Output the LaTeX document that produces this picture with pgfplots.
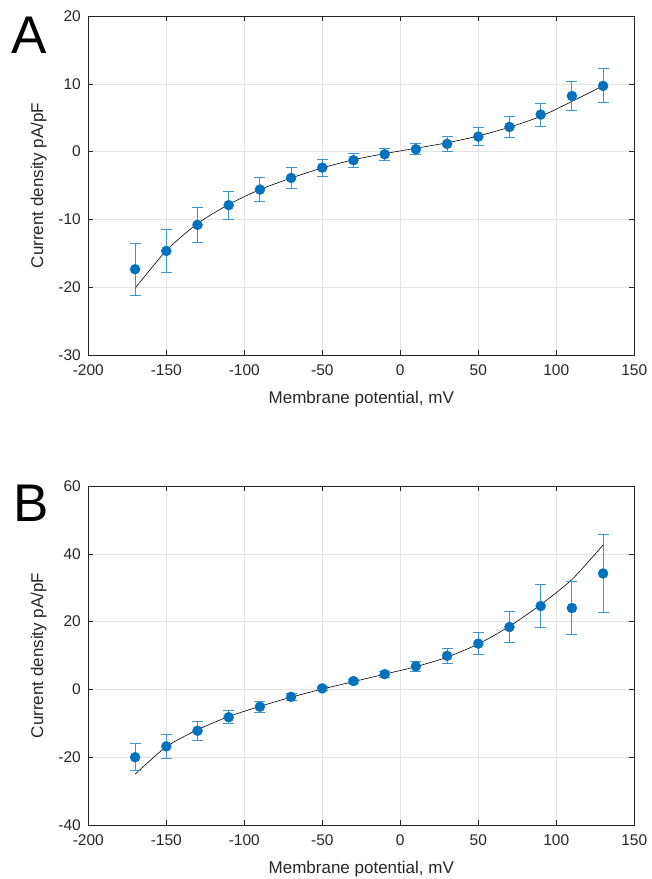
\documentclass[border=0pt]{standalone}
\usepackage{fontspec}
\setmainfont{Liberation Sans}
\usepackage{pgfplots}
\usepackage{pgfplotstable}
\pgfplotsset{compat=1.18}

\definecolor{mblue}{HTML}{0072BD}
\definecolor{ebar}{HTML}{3E94D1}
\definecolor{axgray}{HTML}{262626}

% measured points: x, mean, error (SEM)
\pgfplotstableread{
x y e
-170 -17.35 3.85
-150 -14.65 3.2
-130 -10.8 2.55
-110 -7.9 2.05
-90 -5.6 1.77
-70 -3.88 1.52
-50 -2.36 1.25
-30 -1.27 1.05
-10 -0.39 0.9
10 0.35 0.85
30 1.14 1.12
50 2.21 1.32
70 3.64 1.5
90 5.46 1.7
110 8.2 2.12
130 9.69 2.52
}\dataA

\pgfplotstableread{
x y
-170 -20.15
-150 -14.6
-130 -10.6
-110 -7.8
-90 -5.6
-70 -3.9
-50 -2.4
-30 -1.2
-10 -0.3
10 0.5
30 1.3
50 2.3
70 3.6
90 5.2
110 7.4
130 9.7
}\fitA

\pgfplotstableread{
x y e
-170 -20.0 3.9
-150 -16.8 3.6
-130 -12.2 2.8
-110 -8.2 2.0
-90 -5.1 1.6
-70 -2.2 1.1
-50 0.3 0.6
-30 2.46 0.6
-10 4.5 0.9
10 6.8 1.5
30 9.9 2.2
50 13.5 3.2
70 18.4 4.5
90 24.6 6.3
110 24.0 7.9
130 34.2 11.4
}\dataB

\pgfplotstableread{
x y
-170 -25.0
-150 -16.9
-130 -11.9
-110 -8.0
-90 -5.0
-70 -2.3
-50 0.1
-30 2.3
-10 4.5
10 6.7
30 9.5
50 13.4
70 18.6
90 25.0
110 32.4
130 42.6
}\fitB

\pgfplotsset{
  ivstyle/.style={
    width=546pt, height=339pt, scale only axis,
    xmin=-200, xmax=150,
    xtick={-200,-150,...,150},
    axis line style={axgray, line width=0.7pt},
    tick style={axgray, line width=0.6pt},
    major tick length=5pt,
    tick align=inside,
    grid=major,
    major grid style={gray!22, line width=0.5pt},
    ticklabel style={font=\fontsize{15.5}{18}\selectfont, text=axgray},
    xticklabel style={yshift=-6pt},
    yticklabel style={xshift=-4pt},
    /pgf/number format/assume math mode=true,
    xlabel={Membrane potential, mV},
    ylabel={Current density pA/pF},
    label style={font=\fontsize{17}{20}\selectfont, text=axgray},
    xlabel style={at={(axis description cs:0.5,0)}, anchor=north, yshift=-33pt},
    ylabel style={at={(axis description cs:-0.076,0.5)}, anchor=south, inner sep=0pt},
    clip=false,
  },
  fitline/.style={black, line width=0.6pt, smooth, tension=0.4, no marks},
  pts/.style={only marks, mark=*, mark size=5pt, color=mblue,
    mark options={fill=mblue, draw=mblue},
    error bars/.cd, y dir=both, y explicit,
    error bar style={ebar, line width=1pt},
    error mark options={ebar, mark size=5.5pt, line width=1pt, rotate=90}},
}

\begin{document}
\begin{tikzpicture}
\path[use as bounding box] (0,0) rectangle (652pt,-879pt);

\begin{axis}[ivstyle, at={(88.3pt,-355pt)}, anchor=south west,
  ymin=-30, ymax=20, ytick={-30,-20,...,20}]
\addplot[fitline] table[x=x, y=y] {\fitA};
\addplot[pts] table[x=x, y=y, y error=e] {\dataA};
\end{axis}

\begin{axis}[ivstyle, at={(88.3pt,-825pt)}, anchor=south west,
  ymin=-40, ymax=60, ytick={-40,-20,...,60}]
\addplot[fitline] table[x=x, y=y] {\fitB};
\addplot[pts] table[x=x, y=y, y error=e] {\dataB};
\end{axis}

\node[anchor=base west, inner sep=0pt, font=\fontsize{53}{60}\selectfont] at (11pt,-53pt) {A};
\node[anchor=base west, inner sep=0pt, font=\fontsize{53}{60}\selectfont] at (13pt,-521pt) {B};
\end{tikzpicture}
\end{document}
